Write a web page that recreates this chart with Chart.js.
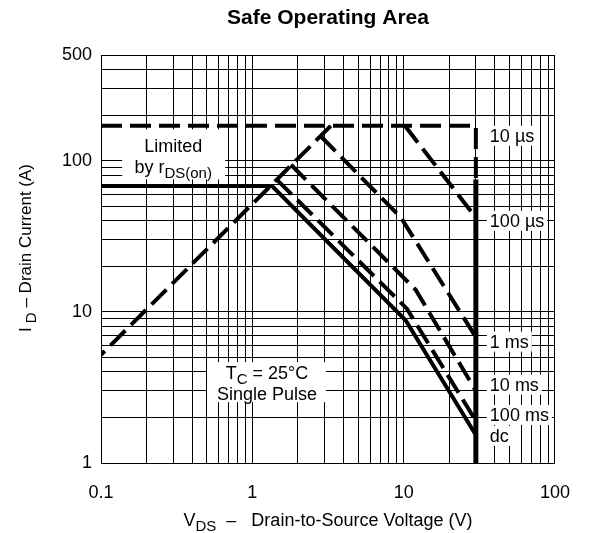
<!DOCTYPE html>
<html>
<head>
<meta charset="utf-8">
<script src="https://cdn.jsdelivr.net/npm/chart.js@4.4.1/dist/chart.umd.min.js"></script>
<style>
  html, body { margin: 0; padding: 0; background: #fff; }
</style>
</head>
<body>
<canvas id="soa-chart" width="589" height="533"></canvas>
<script>
// ticks that get a label
var xTickLabels = [0.1, 1, 10, 100];
var yTickLabels = [1, 10, 100, 500];

// rDS(on) limit line (drawn from the top end down so the dash starts at the corner)
var rdsVds = [3.3, 0.1];
var rdsId = [170, 5.2];

// single pulse curves, Vds / Id pairs
var us10Vds = [0.1, 30, 30];
var us10Id = [170, 170, 75];
var us100Vds = [10.2, 30];
var us100Id = [170, 42];
var ms1Vds = [2.83, 9.6, 30];
var ms1Id = [145, 42, 6.8];
var ms10Vds = [1.8, 12, 30];
var ms10Id = [94, 14, 3.0];
var ms100Vds = [1.45, 10.5, 30];
var ms100Id = [75, 10.5, 1.9];
var dcVds = [0.1, 1.35, 10.3, 30];
var dcId = [68, 68, 8.8, 1.53];

// breakdown voltage limit
var bvVds = [30, 30];
var bvId = [75, 1];

// curve names shown right of the limit, and the current they sit at
var curveNames = ['10 \u00b5s', '100 \u00b5s', '1 ms', '10 ms', '100 ms', 'dc'];
var curveNameId = [146, 40, 6.35, 3.3, 2.08, 1.51];

var FONT = '"Liberation Sans", Arial, Helvetica, sans-serif';
Chart.defaults.font.family = FONT;
Chart.defaults.color = '#000';

function pts(xs, ys) {
    return xs.map(function(x, i) { return {x: x, y: ys[i]}; });
}

function line(data, dashed, width) {
    return {
        data: data,
        showLine: true,
        borderColor: '#000',
        borderWidth: width || 4,
        borderDash: dashed ? [21, 8] : [],
        borderCapStyle: 'butt',
        pointRadius: 0,
        fill: false
    };
}

// text with subscripts: parts = [[text, isSub], ...]
function drawRich(ctx, parts, x, y, align, size) {
    size = size || 18;
    var main = size + 'px ' + FONT, small = '15px ' + FONT;
    var widths = [], total = 0;
    parts.forEach(function(p) {
        ctx.font = p[1] ? small : main;
        var w = ctx.measureText(p[0]).width;
        widths.push(w);
        total += w;
    });
    var cx = align === 'center' ? x - total / 2 : x;
    ctx.textAlign = 'left';
    ctx.textBaseline = 'alphabetic';
    ctx.fillStyle = '#000';
    parts.forEach(function(p, i) {
        ctx.font = p[1] ? small : main;
        ctx.fillText(p[0], cx, y + size * 0.36 + (p[1] ? 5 : 0));
        cx += widths[i];
    });
    return total;
}

function whiteBox(ctx, x, y, w, h) {
    ctx.fillStyle = '#fff';
    ctx.fillRect(x, y, w, h);
}

var soaText = {
    id: 'soaText',
    afterDatasetsDraw: function(chart) {
        var ctx = chart.ctx, xs = chart.scales.x, ys = chart.scales.y;
        ctx.save();

        var cx = xs.getPixelForValue(0.3), cy = ys.getPixelForValue(110);
        whiteBox(ctx, cx - 51, cy - 25, 103, 50);
        drawRich(ctx, [['Limited']], cx, cy - 9, 'center');
        drawRich(ctx, [['by r'], ['DS(on)', true]], cx, cy + 12, 'center');

        cx = xs.getPixelForValue(1.25); cy = ys.getPixelForValue(3.43);
        whiteBox(ctx, cx - 60, cy - 20, 119, 40);
        drawRich(ctx, [['T'], ['C', true], [' = 25\u00b0C']], cx, cy - 10, 'center');
        drawRich(ctx, [['Single Pulse']], cx, cy + 11, 'center');

        var lx = xs.getPixelForValue(30) + 14;
        curveNames.forEach(function(name, i) {
            var py = ys.getPixelForValue(curveNameId[i]);
            ctx.font = '18px ' + FONT;
            var w = ctx.measureText(name).width;
            whiteBox(ctx, lx - 3, py - 10, w + 6, 20);
            drawRich(ctx, [[name]], lx, py, 'left');
        });
        ctx.restore();
    },
    afterDraw: function(chart) {
        var ctx = chart.ctx, a = chart.chartArea;
        ctx.save();
        drawRich(ctx, [['V'], ['DS', true], ['  \u2013   Drain-to-Source Voltage (V)']],
            (a.left + a.right) / 2, 519.5, 'center', 18);
        ctx.translate(25, 248);
        ctx.rotate(-Math.PI / 2);
        drawRich(ctx, [['I'], [' D', true], [' \u2013 Drain Current (A)']], 0, 0, 'center', 17);
        ctx.restore();
    }
};

function keepDecadeSteps(scale) {
    scale.ticks = scale.ticks.filter(function(t) {
        var m = t.value / Math.pow(10, Math.floor(Math.log10(t.value) + 1e-9));
        return Math.abs(m - Math.round(m)) < 1e-6;
    });
}

function labelIf(list) {
    return function(value) {
        var hit = list.some(function(v) { return Math.abs(v - value) < v * 1e-6; });
        return hit ? String(value) : '';
    };
}

var ctx = document.getElementById('soa-chart');
var chart = new Chart(ctx, {
    type: 'scatter',
    data: {
        datasets: [
            line(pts(rdsVds, rdsId), true),
            line(pts(us10Vds, us10Id), true),
            line(pts(us100Vds, us100Id), true),
            line(pts(ms1Vds, ms1Id), true),
            line(pts(ms10Vds, ms10Id), true),
            line(pts(ms100Vds, ms100Id), true),
            line(pts(dcVds, dcId), false),
            line(pts(bvVds, bvId), false, 5)
        ]
    },
    options: {
        responsive: false,
        animation: false,
        layout: { padding: { left: 0, right: 31, top: 0, bottom: 0 } },
        plugins: {
            legend: { display: false },
            tooltip: { enabled: false },
            title: {
                display: true,
                fullSize: false,
                text: 'Safe Operating Area',
                color: '#000',
                font: { size: 21, weight: 'bold' },
                padding: { top: 6, bottom: 23.8 }
            }
        },
        scales: {
            x: {
                type: 'logarithmic',
                min: 0.1,
                max: 100,
                grid: { color: '#000', lineWidth: 1, drawTicks: false },
                border: { color: '#000', width: 1 },
                ticks: { autoSkip: false, maxRotation: 0, padding: 19, font: { size: 18 }, callback: labelIf(xTickLabels) },
                afterBuildTicks: keepDecadeSteps,
                afterFit: function(s) { s.height = 70; }
            },
            y: {
                type: 'logarithmic',
                min: 1,
                max: 500,
                grid: { color: '#000', lineWidth: 1, drawTicks: false },
                border: { color: '#000', width: 1 },
                ticks: { autoSkip: false, padding: 9, font: { size: 18 }, callback: labelIf(yTickLabels) },
                afterBuildTicks: keepDecadeSteps,
                afterFit: function(s) { s.width = 101; }
            }
        }
    },
    plugins: [soaText]
});
</script>
</body>
</html>
